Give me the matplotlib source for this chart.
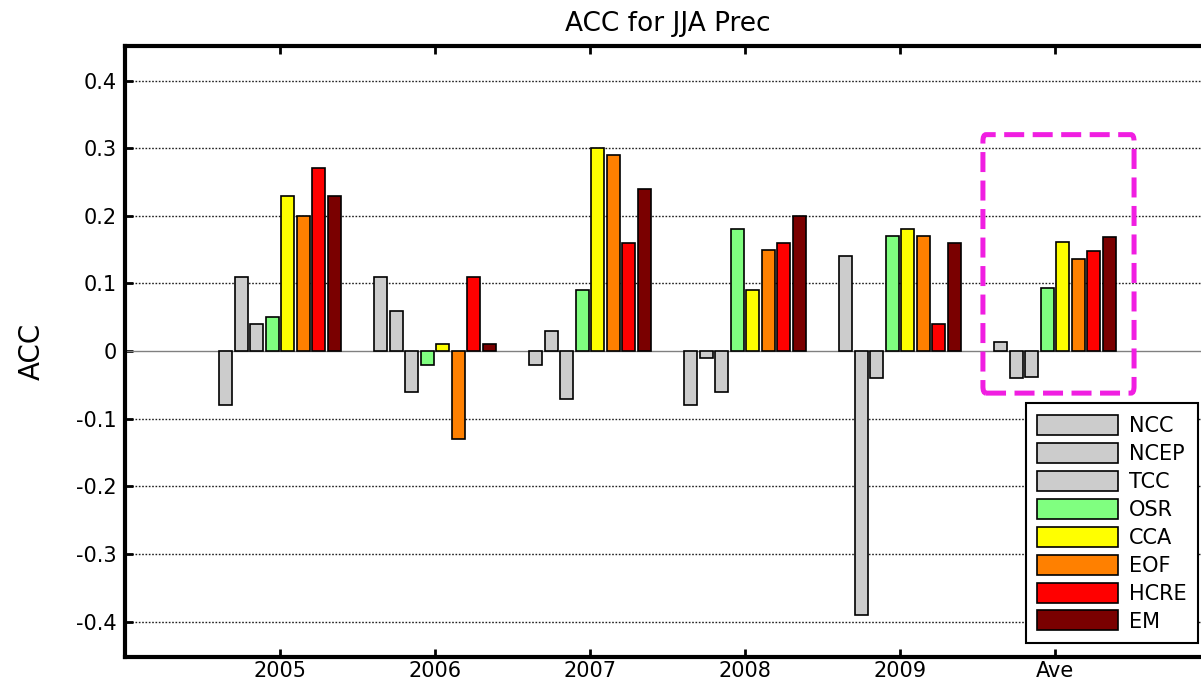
import numpy as np
import matplotlib
matplotlib.use("Agg")
import matplotlib.pyplot as plt
from matplotlib.patches import FancyBboxPatch

plt.rcParams['font.family'] = ['DejaVu Sans']

groups = ['2005', '2006', '2007', '2008', '2009', 'Ave']
models = ['NCC', 'NCEP', 'TCC', 'OSR', 'CCA', 'EOF', 'HCRE', 'EM']
colors = ['#CCCCCC', '#CCCCCC', '#CCCCCC', '#80FF80', '#FFFF00', '#FF8000', '#FF0000', '#7A0000']

NCC  = [-0.08, 0.11, -0.02, -0.08, 0.14, 0.014]
NCEP = [0.11, 0.06, 0.03, -0.01, -0.39, -0.040]
TCC  = [0.04, -0.06, -0.07, -0.06, -0.04, -0.038]
OSR  = [0.05, -0.02, 0.09, 0.18, 0.17, 0.094]
CCA  = [0.23, 0.01, 0.30, 0.09, 0.18, 0.162]
EOF  = [0.20, -0.13, 0.29, 0.15, 0.17, 0.136]
HCRE = [0.27, 0.11, 0.16, 0.16, 0.04, 0.148]
EM   = [0.23, 0.01, 0.24, 0.20, 0.16, 0.168]
series = [NCC, NCEP, TCC, OSR, CCA, EOF, HCRE, EM]

yticks = [-0.4, -0.3, -0.2, -0.1, 0, 0.1, 0.2, 0.3, 0.4]
ytick_labels = ['-0.4', '-0.3', '-0.2', '-0.1', '0', '0.1', '0.2', '0.3', '0.4']

fig = plt.figure(figsize=(12.01, 6.86), dpi=100)
ax = fig.add_axes([125/1201, 29/686, 1085/1201, 611/686])

x = np.arange(1, len(groups) + 1)
step = 0.1
width = 0.082
for i, (vals, c, name) in enumerate(zip(series, colors, models)):
    off = (i - 3.5) * step
    ax.bar(x + off, vals, width=width, color=c, edgecolor='black',
           linewidth=1.2, label=name, zorder=3)

ax.axhline(0, color='#808080', linewidth=1.0, zorder=2)

ax.set_xlim(0, 7)
ax.set_ylim(-0.452, 0.451)
ax.set_xticks(x)
ax.set_xticklabels(groups)
ax.set_yticks(yticks)
ax.set_yticklabels(ytick_labels)

for yv in yticks:
    if yv != 0:
        ax.axhline(yv, color='#202020', linewidth=1.0, linestyle=(0, (1.2, 1.2)), zorder=1)

for s in ['left', 'bottom', 'top']:
    ax.spines[s].set_linewidth(3)
ax.spines['right'].set_visible(False)

ax.tick_params(axis='x', direction='in', length=6, width=2, top=True,
               labelsize=15, pad=3)
ax.tick_params(axis='y', direction='in', length=6, width=2, right=False,
               labelsize=15, pad=6)

ax.set_title('ACC for JJA Prec', fontsize=19, pad=11)
ax.set_ylabel('ACC', fontsize=20, labelpad=22)

# Highlight box around the average group
rect = FancyBboxPatch((5.535, -0.062), 6.51 - 5.535, 0.32 + 0.062,
                      boxstyle='round,pad=0,rounding_size=0.02',
                      fill=False, edgecolor='#F01EE1', linewidth=3.6,
                      linestyle=(0, (4, 1.7)), zorder=4, mutation_aspect=0.5)
ax.add_patch(rect)

leg = ax.legend(loc='lower right', bbox_to_anchor=(1198/1201, 1 - 643/686),
                bbox_transform=fig.transFigure, borderaxespad=0,
                fontsize=15, handlelength=3.9, handleheight=1.1,
                labelspacing=0.33, handletextpad=0.5, borderpad=0.55,
                fancybox=False, framealpha=1, edgecolor='black')
leg.get_frame().set_linewidth(1.5)
leg.set_zorder(5)

fig.savefig('out.png', dpi=100)
